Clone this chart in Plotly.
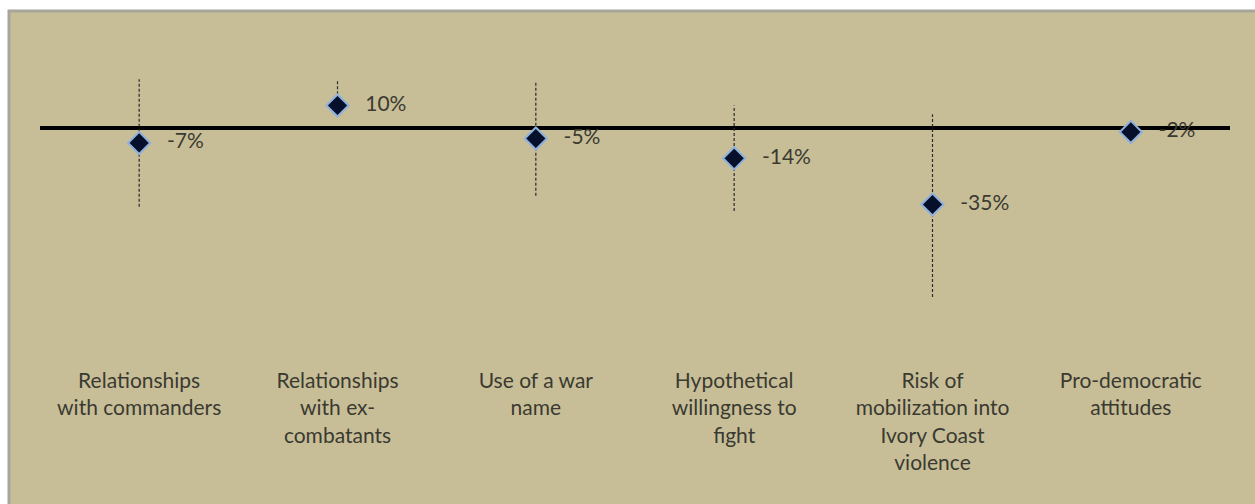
import plotly.graph_objects as go

categories = [
    "Relationships<br>with commanders",
    "Relationships<br>with ex-<br>combatants",
    "Use of a war<br>name",
    "Hypothetical<br>willingness to<br>fight",
    "Risk of<br>mobilization into<br>Ivory Coast<br>violence",
    "Pro-democratic<br>attitudes",
]
values = [-7, 10, -5, -14, -35, -2]
err_plus = [29, 12, 26, 24, 41, 0]
err_minus = [29, 4, 26, 24, 42, 0]
labels = ["-7%", "10%", "-5%", "-14%", "-35%", "-2%"]

W, H = 1255, 504
ML, MT = 40, 60
PR, PB = 1230, 360          # plot right / bottom in figure px
MR, MB = W - PR, H - PB
pw, ph = PR - ML, PB - MT

ex, ey = [], []
for c, v, p, m in zip(categories, values, err_plus, err_minus):
    if p == 0 and m == 0:
        continue
    ex += [c, c, None]
    ey += [v - m, v + p, None]

fig = go.Figure()
fig.add_trace(go.Scatter(
    x=ex, y=ey, mode="lines",
    line=dict(color="#2a2a2a", width=1.2, dash="3px,2px"),
    hoverinfo="skip", showlegend=False,
))
fig.add_trace(go.Scatter(
    x=categories, y=values, mode="markers+text",
    marker=dict(symbol="diamond", size=17, color="#06102a",
                line=dict(color="#8fb0dc", width=2)),
    text=["   " + t for t in labels], textposition="middle right",
    textfont=dict(family="Lato", size=21, color="#3a3a30"),
    showlegend=False,
))

def px_x(p):
    return (p - ML) / pw

def px_y(p):
    return (PB - p) / ph

fig.add_shape(type="rect", xref="paper", yref="paper",
              x0=px_x(9), x1=px_x(1275), y0=px_y(520), y1=px_y(11),
              fillcolor="#c7be98", line=dict(color="#a6a69a", width=3),
              layer="below")

fig.update_layout(
    width=W, height=H,
    margin=dict(l=ML, r=MR, t=MT, b=MB),
    paper_bgcolor="white", plot_bgcolor="rgba(0,0,0,0)",
    font=dict(family="Lato", color="#3a3a30"),
    xaxis=dict(type="category", range=[-0.5, 5.5], showgrid=False,
               zeroline=False, showline=False, ticks="",
               tickfont=dict(family="Lato", size=21, color="#3a3a30"),
               ticklabelstandoff=6, fixedrange=True),
    yaxis=dict(range=[-105.7, 30.7], showgrid=False, showticklabels=False,
               zeroline=True, zerolinecolor="black", zerolinewidth=4,
               showline=False, ticks="", fixedrange=True),
)

fig.write_html(
    "out.html",
    config={"displayModeBar": False},
    post_script="document.body.style.margin='0';document.body.style.overflow='hidden';",
)
